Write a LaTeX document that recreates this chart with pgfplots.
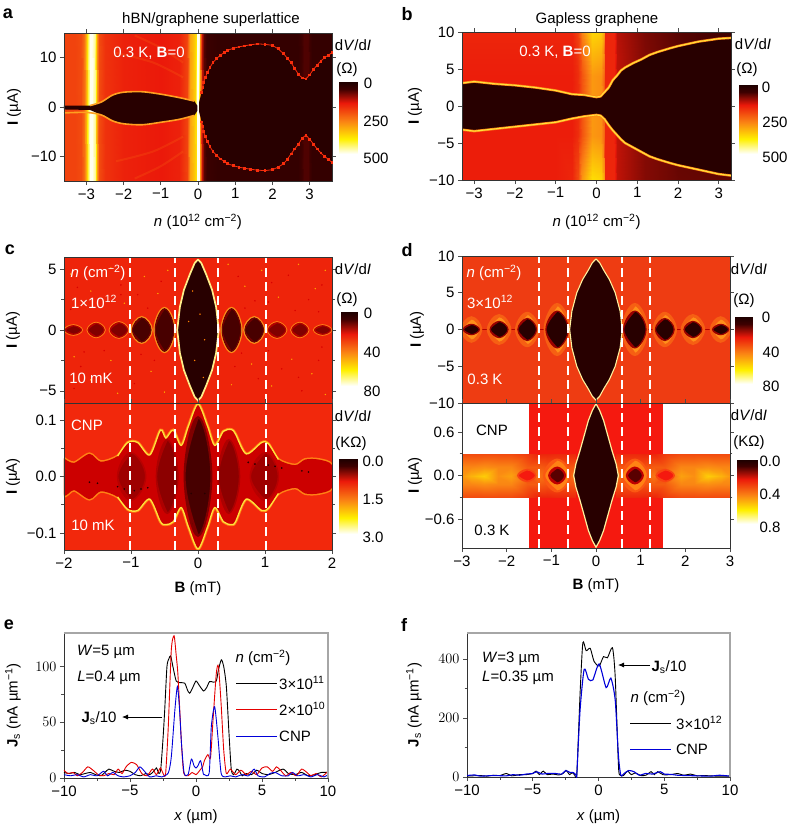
\documentclass[border=0pt]{standalone}
\usepackage{pgfplots}
\usepackage{fontspec}
\setmainfont{Liberation Sans}
\pgfplotsset{compat=1.18}
\usepackage{pgfplotstable}
\usetikzlibrary{arrows.meta}
\pgfplotsset{colormap={hot2}{rgb255(0cm)=(30,0,0); rgb255(1cm)=(62,0,0); rgb255(3cm)=(235,25,10); rgb255(5.5cm)=(250,130,20); rgb255(8cm)=(255,240,0); rgb255(10cm)=(255,255,240)}}
\definecolor{dk}{RGB}{40,0,0}
\definecolor{bgc}{RGB}{238,36,10}
\definecolor{bgcb}{RGB}{242,40,12}
\definecolor{bgd}{RGB}{238,60,18}
\definecolor{rd}{RGB}{245,25,15}
\definecolor{ora}{RGB}{255,130,20}
\definecolor{yel}{RGB}{255,226,60}
\newcommand\tf{\fontsize{15}{17}\selectfont}
\pgfplotsset{
 base/.style={scale only axis, axis on top, anchor=south west, tick align=outside,
  tick style={color=black!70,line width=.6pt}, major tick length=4pt, minor tick length=2.5pt,
  tick label style={font=\tf}, axis line style={black!80,line width=.8pt},
  point meta min=0, point meta max=100, colormap name=hot2, enlargelimits=false},
 yl/.style={every axis y label/.style={at={(axis description cs:0,0.5)},rotate=90,anchor=center,yshift=#1,font=\tf}},
 xl/.style={every axis x label/.style={at={(axis description cs:0.5,0)},anchor=center,yshift=#1,font=\tf}},
 sf/.style={surf,shader=interp,draw=none,point meta=explicit,mesh/ordering=y varies},
 dash/.style={white,line width=2pt,dash pattern=on 9pt off 5pt,forget plot},
 jump/.style={unbounded coords=jump,smooth,tension=0.75},
}
\colorlet{cblk}{black}
\colorlet{cred}{red!90!black}
\colorlet{cblu}{blue!85!black}
% ---- colour bar
\pgfplotstableread[row sep=\\]{x y c\\0 0 0\\1 0 0\\0 10 10\\1 10 10\\0 30 30\\1 30 30\\0 55 55\\1 55 55\\0 80 80\\1 80 80\\0 100 100\\1 100 100\\}\cbtab
\newcommand\cbar[4]{\begin{axis}[base,at={(#1pt,-#2pt)},anchor=north west,width=#3pt,height=#4pt,hide axis,xmin=0,xmax=1,ymin=0,ymax=100,y dir=reverse]
\addplot[surf,shader=interp,draw=none,point meta=explicit,mesh/ordering=x varies,mesh/cols=2] table[meta=c]{\cbtab};
\end{axis}}
\newcommand\T[3]{\node[font=\tf,anchor=center] at (#1pt,-#2pt){#3};}
\newcommand\Tw[3]{\node[font=\tf,text=white,anchor=center] at (#1pt,-#2pt){#3};}
\newcommand\Key[6]{\draw[#1,line width=1pt] (#2pt,-#4pt)--(#3pt,-#4pt);\node[font=\tf,anchor=west,inner sep=0pt] at (#5pt,-#4pt){#6};}
\newcommand\dVdI{d\textit{V}/d\textit{I}}
% ---- panel a: n, I, colour
\pgfplotstableread[row sep=\\]{x y c\\
-3.6 -15 40\\-3.6 15 40\\-3.3 -15 40\\-3.3 15 40\\-3.15 -15 42\\-3.15 15 42\\-3.05 -15 50\\-3.05 15 50\\-3 -15 64\\-3 15 64\\-2.95 -15 86\\-2.95 15 86\\-2.9 -15 100\\-2.9 15 100\\-2.85 -15 100\\-2.85 15 100\\-2.78 -15 92\\-2.78 15 92\\-2.72 -15 60\\-2.72 15 60\\-2.65 -15 42\\-2.65 15 42\\-2.5 -15 36\\-2.5 15 36\\-2 -15 32\\-2 15 32\\-1.5 -15 31\\-1.5 15 31\\-1 -15 30\\-1 15 30\\-0.5 -15 32\\-0.5 15 32\\-0.3 -15 40\\-0.3 15 40\\-0.22 -15 62\\-0.22 15 62\\-0.12 -15 70\\-0.12 15 70\\-0.06 -15 76\\-0.06 15 76\\-0.03 -15 100\\-0.03 15 100\\0.02 -15 100\\0.02 15 100\\0.05 -15 60\\0.05 15 60\\0.1 -15 25\\0.1 15 25\\0.15 -15 13\\0.15 15 13\\0.25 -15 9\\0.25 15 9\\0.5 -15 7\\0.5 15 7\\2.7 -15 7\\2.7 15 7\\2.85 -15 12\\2.85 15 12\\2.95 -15 12\\2.95 15 12\\3.05 -15 7\\3.05 15 7\\3.6 -15 7\\3.6 15 7\\}\atab
% ---- panel b: n, I, colour
\pgfplotstableread[row sep=\\]{x y c\\
-3.3 -10 31\\-3.3 -4 31\\-3.3 4 31\\-3.3 10 33\\
-1 -10 31\\-1 -4 31\\-1 4 31\\-1 10 33\\
-0.6 -10 33\\-0.6 -4 31\\-0.6 4 31\\-0.6 10 33\\
-0.45 -10 42\\-0.45 -4 35\\-0.45 4 35\\-0.45 10 40\\
-0.35 -10 60\\-0.35 -4 44\\-0.35 4 44\\-0.35 10 55\\
-0.1 -10 76\\-0.1 -4 60\\-0.1 4 60\\-0.1 10 74\\
0.1 -10 74\\0.1 -4 58\\0.1 4 58\\0.1 10 72\\
0.18 -10 62\\0.18 -4 48\\0.18 4 48\\0.18 10 62\\
0.22 -10 33\\0.22 -4 33\\0.22 4 33\\0.22 10 33\\
0.42 -10 33\\0.42 -4 33\\0.42 4 33\\0.42 10 33\\
0.5 -10 25\\0.5 -4 25\\0.5 4 25\\0.5 10 24\\
0.8 -10 22\\0.8 -4 22\\0.8 4 22\\0.8 10 21\\
1.2 -10 18\\1.2 -4 18\\1.2 4 18\\1.2 10 17\\
2 -10 15\\2 -4 14\\2 4 14\\2 10 13\\
3.3 -10 14\\3.3 -4 10\\3.3 4 10\\3.3 10 10\\}\btab
% ---- panel c top lobes
\pgfplotstableread[row sep=\\]{x y\\
-0.5 -1.75\\-0.64 0\\-0.5 1.75\\-0.36 0\\-0.5 -1.75\\-0.64 0\\-0.5 1.75\\nan nan\\
0.5 -1.75\\0.36 0\\0.5 1.75\\0.64 0\\0.5 -1.75\\0.36 0\\0.5 1.75\\nan nan\\
-0.84 -1\\-0.98 0\\-0.84 1\\-0.70 0\\-0.84 -1\\-0.98 0\\-0.84 1\\nan nan\\
0.84 -1\\0.70 0\\0.84 1\\0.98 0\\0.84 -1\\0.70 0\\0.84 1\\}\cmed
\pgfplotstableread[row sep=\\]{x y\\
-1.18 -0.6\\-1.31 0\\-1.18 0.6\\-1.05 0\\-1.18 -0.6\\-1.31 0\\-1.18 0.6\\nan nan\\
1.18 -0.6\\1.05 0\\1.18 0.6\\1.31 0\\1.18 -0.6\\1.05 0\\1.18 0.6\\nan nan\\
-1.52 -0.55\\-1.64 0\\-1.52 0.55\\-1.40 0\\-1.52 -0.55\\-1.64 0\\-1.52 0.55\\nan nan\\
1.52 -0.55\\1.40 0\\1.52 0.55\\1.64 0\\1.52 -0.55\\1.40 0\\1.52 0.55\\nan nan\\
-1.86 -0.35\\-1.98 0\\-1.86 0.35\\-1.74 0\\-1.86 -0.35\\-1.98 0\\-1.86 0.35\\nan nan\\
1.86 -0.35\\1.74 0\\1.86 0.35\\1.98 0\\1.86 -0.35\\1.74 0\\1.86 0.35\\}\cweak
% ---- panel c bottom envelope
\pgfplotstableread[row sep=\\]{x y\\
-2 .032\\-1.85 .024\\-1.62 .040\\-1.45 .026\\-1.2 .036\\-1.05 .060\\-0.9 .060\\-0.72 .038\\-0.56 .082\\-0.48 .068\\-0.37 .082\\-0.25 .055\\-0.14 .09\\0 .128\\.14 .09\\.25 .055\\.38 .08\\.5 .083\\.56 .075\\.72 .04\\.95 .06\\1.05 .058\\1.2 .03\\1.45 .02\\1.6 .03\\1.8 .03\\2 .02\\
2 -.02\\1.8 -.03\\1.6 -.03\\1.45 -.02\\1.2 -.03\\1.05 -.056\\.95 -.06\\.72 -.04\\.56 -.08\\.5 -.085\\.38 -.08\\.25 -.055\\.14 -.09\\0 -.128\\-.14 -.09\\-.25 -.055\\-.37 -.08\\-.48 -.085\\-.56 -.08\\-.72 -.04\\-.9 -.06\\-1.05 -.058\\-1.2 -.036\\-1.45 -.026\\-1.62 -.040\\-1.85 -.024\\-2 -.032\\-2 .032\\}\cenv
% ---- panel d top lobes
\pgfplotstableread[row sep=\\]{x y\\
-0.87 -2.5\\-1.12 0\\-0.87 2.5\\-0.62 0\\-0.87 -2.5\\-1.12 0\\-0.87 2.5\\nan nan\\
0.87 -2.5\\0.62 0\\0.87 2.5\\1.12 0\\0.87 -2.5\\0.62 0\\0.87 2.5\\nan nan\\
-1.54 -1.5\\-1.75 0\\-1.54 1.5\\-1.33 0\\-1.54 -1.5\\-1.75 0\\-1.54 1.5\\nan nan\\
1.54 -1.5\\1.33 0\\1.54 1.5\\1.75 0\\1.54 -1.5\\1.33 0\\1.54 1.5\\nan nan\\
-2.17 -1.1\\-2.37 0\\-2.17 1.1\\-1.97 0\\-2.17 -1.1\\-2.37 0\\-2.17 1.1\\nan nan\\
2.17 -1.1\\1.97 0\\2.17 1.1\\2.37 0\\2.17 -1.1\\1.97 0\\2.17 1.1\\nan nan\\
-2.79 -0.7\\-2.97 0\\-2.79 0.7\\-2.61 0\\-2.79 -0.7\\-2.97 0\\-2.79 0.7\\nan nan\\
2.79 -0.7\\2.61 0\\2.79 0.7\\2.97 0\\2.79 -0.7\\2.61 0\\2.79 0.7\\}\dlob
\pgfplotstableread[row sep=\\]{x y\\
-0.87 -3.4\\-1.14 0\\-0.87 3.4\\-0.6 0\\-0.87 -3.4\\-1.14 0\\-0.87 3.4\\nan nan\\
0.87 -3.4\\0.6 0\\0.87 3.4\\1.14 0\\0.87 -3.4\\0.6 0\\0.87 3.4\\nan nan\\
-1.54 -2.2\\-1.78 0\\-1.54 2.2\\-1.3 0\\-1.54 -2.2\\-1.78 0\\-1.54 2.2\\nan nan\\
1.54 -2.2\\1.3 0\\1.54 2.2\\1.78 0\\1.54 -2.2\\1.3 0\\1.54 2.2\\nan nan\\
-2.17 -1.9\\-2.41 0\\-2.17 1.9\\-1.93 0\\-2.17 -1.9\\-2.41 0\\-2.17 1.9\\nan nan\\
2.17 -1.9\\1.93 0\\2.17 1.9\\2.41 0\\2.17 -1.9\\1.93 0\\2.17 1.9\\nan nan\\
-2.79 -1.6\\-3.0 0\\-2.79 1.6\\-2.58 0\\-2.79 -1.6\\-3.0 0\\-2.79 1.6\\nan nan\\
2.79 -1.6\\2.58 0\\2.79 1.6\\3.0 0\\2.79 -1.6\\2.58 0\\2.79 1.6\\}\dhal
% ---- panel d bottom band (|B|, I>=0, colour)
\pgfplotstableread[row sep=\\]{x y c\\
0.45 0 52\\0.45 .12 45\\0.45 .3 34\\
0.7 0 48\\0.7 .12 44\\0.7 .3 34\\
0.87 0 40\\0.87 .12 44\\0.87 .3 34\\
1.1 0 46\\1.1 .12 44\\1.1 .3 33\\
1.3 0 52\\1.3 .12 46\\1.3 .3 33\\
1.55 0 42\\1.55 .12 46\\1.55 .3 38\\
1.9 0 62\\1.9 .12 56\\1.9 .3 42\\
2.2 0 58\\2.2 .12 56\\2.2 .3 42\\
2.5 0 72\\2.5 .12 58\\2.5 .3 42\\
2.8 0 66\\2.8 .12 56\\2.8 .3 42\\
3 0 60\\3 .12 56\\3 .3 42\\}\dband
\pgfplotstableread[row sep=\\]{x y\\
-0.87 -.22\\-1.16 0\\-0.87 .22\\-0.58 0\\-0.87 -.22\\-1.16 0\\-0.87 .22\\nan nan\\
0.87 -.22\\0.58 0\\0.87 .22\\1.16 0\\0.87 -.22\\0.58 0\\0.87 .22\\}\dbh
\pgfplotstableread[row sep=\\]{x y\\
-0.87 -.11\\-1.05 0\\-0.87 .11\\-0.69 0\\-0.87 -.11\\-1.05 0\\-0.87 .11\\nan nan\\
0.87 -.11\\0.69 0\\0.87 .11\\1.05 0\\0.87 -.11\\0.69 0\\0.87 .11\\}\dbl
\pgfplotstableread[row sep=\\]{x y\\
-1.55 -.08\\-1.75 0\\-1.55 .08\\-1.35 0\\-1.55 -.08\\-1.75 0\\-1.55 .08\\nan nan\\
1.55 -.08\\1.35 0\\1.55 .08\\1.75 0\\1.55 -.08\\1.35 0\\1.55 .08\\}\dbm
\begin{document}
\begin{tikzpicture}
\useasboundingbox (0pt,0pt) rectangle (788pt,-825pt);
% ============ a
\begin{axis}[base,at={(64pt,-181pt)},width=268pt,height=148pt,xmin=-3.6,xmax=3.6,ymin=-15,ymax=15,
 xtick={-3,-2,-1,0,1,2,3},xticklabels={−3,−2,−1,0,1,2,3},ytick={-10,0,10},yticklabels={−10,0,10},
 xlabel={\textit{n} (10\textsuperscript{12} cm\textsuperscript{−2})},ylabel={\textbf{I} (µA)},yl=50pt,xl=-41pt]
\addplot[sf,mesh/rows=2] table[meta=c]{\atab};
\addplot[ora,opacity=.18,line width=2pt,smooth] coordinates {(-0.4,6)(-1.2,9)(-2.2,11)};
\addplot[ora,opacity=.18,line width=2pt,smooth] coordinates {(-0.4,9)(-1,12)(-1.7,14.5)};
\addplot[ora,opacity=.18,line width=2pt,smooth] coordinates {(-0.4,-6)(-1.2,-9)(-2.2,-11)};
\addplot[ora,opacity=.18,line width=2pt,smooth] coordinates {(-0.4,-9)(-1,-12)(-1.7,-14.5)};
\addplot[fill=dk,draw=none] coordinates {(-3.6,0.3)(-2.9,0.3)(-2.6,1)(-2.3,2.4)(-2,3)(-1.5,3.1)(-1,2.6)(-0.5,1.9)(-0.1,1.2)(-0.02,0.3)(-0.02,-0.8)(-0.1,-1.7)(-0.5,-2.5)(-1,-3.1)(-1.5,-3.6)(-2,-3.4)(-2.3,-2.8)(-2.6,-1.6)(-2.9,-0.6)(-3.6,-0.5)};
\addplot[ora!70!yel,line width=1.6pt,smooth] coordinates {(-2.9,0.3)(-2.6,1)(-2.3,2.4)(-2,3)(-1.5,3.1)(-1,2.6)(-0.5,1.9)(-0.1,1.2)};
\addplot[ora!70!yel,line width=1.6pt,smooth] coordinates {(-3.6,-1.2)(-3,-1.1)(-2.6,-1.6)(-2.3,-2.8)(-2,-3.4)(-1.5,-3.6)(-1,-3.1)(-0.5,-2.5)(-0.1,-1.7)};
\addplot[fill=dk,draw=none] coordinates {(0.03,-1)(0.03,1)(0.1,3)(0.15,5)(0.25,7)(0.4,9)(0.6,10.5)(0.8,11.5)(1.1,12.2)(1.6,12.8)(2,12.5)(2.3,10.8)(2.5,9)(2.7,6.6)(2.9,5.7)(3,6.5)(3.2,8.5)(3.4,10)(3.6,11)(3.6,-11.2)(3.4,-10)(3.2,-8.5)(3,-6.5)(2.9,-5.7)(2.7,-7.5)(2.5,-9.5)(2.3,-11.5)(2,-12.7)(1.6,-12.8)(1.1,-12.2)(0.8,-11.5)(0.6,-10.5)(0.4,-9)(0.25,-7)(0.15,-5)(0.1,-3)};
\addplot[rd!80!orange,line width=.8pt,mark=square*,mark size=.9pt] coordinates {(0.1,3)(0.13,4)(0.15,5)(0.2,6)(0.25,7)(0.32,8)(0.4,9)(0.5,9.8)(0.6,10.5)(0.7,11)(0.8,11.5)(0.95,11.9)(1.1,12.2)(1.25,12.4)(1.4,12.6)(1.6,12.8)(1.8,12.7)(2,12.5)(2.15,11.8)(2.3,10.8)(2.4,9.9)(2.5,9)(2.6,7.8)(2.7,6.6)(2.8,5.9)(2.9,5.7)(3,6.5)(3.1,7.6)(3.2,8.5)(3.3,9.3)(3.4,10)(3.5,10.5)(3.6,11)};
\addplot[rd!80!orange,line width=.8pt,mark=square*,mark size=.9pt] coordinates {(0.1,-3)(0.13,-4)(0.15,-5)(0.2,-6)(0.25,-7)(0.32,-8)(0.4,-9)(0.5,-9.8)(0.6,-10.5)(0.7,-11)(0.8,-11.5)(0.95,-11.9)(1.1,-12.2)(1.25,-12.4)(1.4,-12.6)(1.6,-12.8)(1.8,-12.9)(2,-12.7)(2.15,-12.2)(2.3,-11.5)(2.4,-10.6)(2.5,-9.5)(2.6,-8.5)(2.7,-7.5)(2.8,-6.3)(2.9,-5.7)(3,-6.5)(3.1,-7.5)(3.2,-8.5)(3.3,-9.3)(3.4,-10)(3.5,-10.6)(3.6,-11.2)};
\end{axis}
\T{211}{20}{hBN/graphene superlattice}
\Tw{149}{53}{0.3 K, \textbf{B}=0}
\cbar{339}{82}{18}{71}
\T{353}{45}{\dVdI}\T{347}{70}{(Ω)}\T{368}{83}{0}\T{376}{121}{250}\T{376}{158}{500}
% ============ b
\begin{axis}[base,at={(462pt,-180pt)},width=269pt,height=148pt,xmin=-3.3,xmax=3.3,ymin=-10,ymax=10,
 xtick={-3,-2,-1,0,1,2,3},xticklabels={−3,−2,−1,0,1,2,3},ytick={-10,-5,0,5,10},yticklabels={−10,−5,0,5,10},
 xlabel={\textit{n} (10\textsuperscript{12} cm\textsuperscript{−2})},ylabel={\textbf{I} (µA)},yl=47pt,xl=-42pt]
\addplot[sf,mesh/rows=4] table[meta=c]{\btab};
\addplot[fill=dk,draw=none] coordinates {(-3.3,3.1)(-3,3.3)(-2.5,3)(-2,2.8)(-1.5,2.5)(-1,2.1)(-0.6,1.6)(-0.3,1.5)(0,1.2)(0.1,1.3)(0.2,1.9)(0.3,2.5)(0.4,3.5)(0.5,4.1)(0.6,4.8)(0.7,5.2)(0.9,5.8)(1.1,6.3)(1.3,6.9)(1.5,7.3)(1.8,7.8)(2,8.1)(2.5,8.7)(3,9.1)(3.3,9.2)(3.3,-9.4)(3,-9.2)(2.5,-8.6)(2,-8)(1.8,-7.7)(1.5,-7.2)(1.3,-6.8)(1.1,-6.2)(0.9,-5.6)(0.7,-5)(0.6,-4.5)(0.5,-3.9)(0.4,-3.3)(0.3,-2.6)(0.2,-1.8)(0.1,-1.3)(0,-1.2)(-0.3,-1.4)(-0.6,-1.7)(-1,-2.2)(-1.5,-2.5)(-2,-2.8)(-2.5,-3.1)(-3,-3.4)(-3.3,-3.2)};
\addplot[ora,line width=2.4pt] coordinates {(-3.3,3.1)(-3,3.3)(-2.5,3)(-2,2.8)(-1.5,2.5)(-1,2.1)(-0.6,1.6)(-0.3,1.5)(0,1.2)(0.1,1.3)(0.2,1.9)(0.3,2.5)(0.4,3.5)(0.5,4.1)(0.6,4.8)(0.7,5.2)(0.9,5.8)(1.1,6.3)(1.3,6.9)(1.5,7.3)(1.8,7.8)(2,8.1)(2.5,8.7)(3,9.1)(3.3,9.2)};
\addplot[ora,line width=2.4pt] coordinates {(3.3,-9.4)(3,-9.2)(2.5,-8.6)(2,-8)(1.8,-7.7)(1.5,-7.2)(1.3,-6.8)(1.1,-6.2)(0.9,-5.6)(0.7,-5)(0.6,-4.5)(0.5,-3.9)(0.4,-3.3)(0.3,-2.6)(0.2,-1.8)(0.1,-1.3)(0,-1.2)(-0.3,-1.4)(-0.6,-1.7)(-1,-2.2)(-1.5,-2.5)(-2,-2.8)(-2.5,-3.1)(-3,-3.4)(-3.3,-3.2)};
\addplot[yel,line width=1.1pt] coordinates {(-3.3,3.1)(-3,3.3)(-2.5,3)(-2,2.8)(-1.5,2.5)(-1,2.1)(-0.6,1.6)(-0.3,1.5)(0,1.2)(0.1,1.3)(0.2,1.9)(0.3,2.5)(0.4,3.5)(0.5,4.1)(0.6,4.8)(0.7,5.2)(0.9,5.8)(1.1,6.3)(1.3,6.9)(1.5,7.3)(1.8,7.8)(2,8.1)(2.5,8.7)(3,9.1)(3.3,9.2)};
\addplot[yel,line width=1.1pt] coordinates {(3.3,-9.4)(3,-9.2)(2.5,-8.6)(2,-8)(1.8,-7.7)(1.5,-7.2)(1.3,-6.8)(1.1,-6.2)(0.9,-5.6)(0.7,-5)(0.6,-4.5)(0.5,-3.9)(0.4,-3.3)(0.3,-2.6)(0.2,-1.8)(0.1,-1.3)(0,-1.2)(-0.3,-1.4)(-0.6,-1.7)(-1,-2.2)(-1.5,-2.5)(-2,-2.8)(-2.5,-3.1)(-3,-3.4)(-3.3,-3.2)};
\end{axis}
\T{597}{20}{Gapless graphene}
\Tw{555}{52}{0.3 K, \textbf{B}=0}
\cbar{739}{85}{18}{68}
\T{753}{44}{\dVdI}\T{747}{70}{(Ω)}\T{766}{87}{0}\T{775}{122}{250}\T{775}{157}{500}
% ============ c top
\begin{axis}[base,at={(64pt,-403pt)},width=268pt,height=146pt,xmin=-2,xmax=2,ymin=-6,ymax=6,
 axis background/.style={fill=bgc},xtick=\empty,ytick={-5,0,5},yticklabels={−5,0,5},minor y tick num=1,ylabel={\textbf{I} (µA)},yl=51pt]
\addplot[only marks,mark=*,mark size=.45pt,color=orange!70!yellow] coordinates {(-1.9,4.6)(-1.6,3.2)(-1.3,5.1)(-1.1,2.2)(-0.8,4.4)(-0.6,3)(-0.7,-3.4)(-1.3,-2.5)(-1.6,-4.1)(-1.85,-2.2)(-0.45,4.9)(0.45,5.4)(0.7,3.6)(0.95,4.9)(1.2,2.7)(1.5,5.4)(1.75,3.4)(1.9,4.9)(0.5,-4.5)(0.8,-2.8)(1.1,-4.6)(1.4,-2.4)(1.7,-3.6)(1.9,-5.3)(-1.2,-5.2)(-0.5,-5.1)};
\addplot[only marks,mark=*,mark size=.5pt,color=red!85!black] coordinates {(-1.8,3.5)(-1.45,4.4)(-1.15,3.7)(-0.9,2.9)(-0.55,4)(-1.7,-1.8)(-1.35,-3.6)(-0.95,-4.4)(-0.65,-2.5)(-1.85,-4.8)(0.6,4.4)(0.85,2.4)(1.1,3.9)(1.35,4.5)(1.65,2.5)(1.85,3.7)(0.55,-3)(0.9,-4)(1.25,-3.2)(1.55,-5)(1.8,-2.5)(-1.9,1.7)(-1.5,1.9)(-1.15,2.9)(-0.75,1.8)(0.7,1.8)(1.05,2.3)(1.45,1.6)(1.8,1.5)(-1.75,-3)(-1.4,-1.7)(-0.85,-2)(0.65,-1.9)(1.05,-1.7)(1.5,-3.9)(1.85,-1.4)};
\addplot[ora,line width=3pt,jump] table{\cweak};
\addplot[fill=red!50!black,draw=red!70!black,line width=1.2pt,jump] table{\cweak};
\addplot[ora,line width=3.6pt,jump] table{\cmed};
\addplot[yel,line width=1.6pt,jump] table{\cmed};
\addplot[fill=dk!85!red,draw=red!45!black,line width=1.2pt,jump] table{\cmed};
\addplot[fill=dk,draw=yel!60!white,line width=1.7pt] coordinates {(0,5.8)(.05,5.5)(.12,4.6)(.21,3.3)(.27,1.9)(.31,0)(.27,-1.9)(.21,-3.3)(.12,-4.6)(.05,-5.5)(0,-5.8)(-.05,-5.5)(-.12,-4.6)(-.21,-3.3)(-.27,-1.9)(-.31,0)(-.27,1.9)(-.21,3.3)(-.12,4.6)(-.05,5.5)(0,5.8)};
\addplot[only marks,mark=*,mark size=.5pt,color=orange] coordinates {(-0.08,3.2)(0.03,1.3)(0.1,-0.8)(-0.05,-2.5)(0.08,-3.9)(-0.14,0.7)};
\addplot[dash] coordinates {(-1.01,-6)(-1.01,6)};\addplot[dash] coordinates {(-0.34,-6)(-0.34,6)};\addplot[dash] coordinates {(0.305,-6)(0.305,6)};\addplot[dash] coordinates {(1.01,-6)(1.01,6)};
\end{axis}
\Tw{98}{273}{\textit{n} (cm\textsuperscript{−2})}\Tw{94}{302}{1×10\textsuperscript{12}}\Tw{91}{378}{10 mK}
\cbar{341}{312}{16}{73}
\T{353}{269}{\dVdI}\T{347}{300}{(Ω)}\T{368}{313}{0}\T{372}{352}{40}\T{372}{391}{80}
% ============ c bottom
\begin{axis}[base,at={(64pt,-550pt)},width=268pt,height=147pt,xmin=-2,xmax=2,ymin=-0.13,ymax=0.13,
 axis background/.style={fill=bgcb},xtick={-2,-1,0,1,2},xticklabels={−2,−1,0,1,2},ytick={-0.1,0,0.1},yticklabels={−0.1,0.0,0.1},minor y tick num=1,
 xlabel={\textbf{B} (mT)},ylabel={\textbf{I} (µA)},yl=51pt,xl=-39pt]
\addplot[ora,line width=3pt,smooth,tension=.5] table{\cenv};
\addplot[fill=red!80!black,draw=none,smooth,tension=.5] table{\cenv};
\addplot[yel,line width=1.3pt,smooth] coordinates {(-1.2,.036)(-1.05,.060)(-0.9,.060)(-0.72,.038)(-0.56,.082)(-0.48,.068)(-0.37,.082)(-0.25,.055)(-0.14,.09)(0,.128)(.14,.09)(.25,.055)(.38,.08)(.5,.083)(.56,.075)(.72,.04)(.95,.06)(1.05,.058)(1.2,.03)};
\addplot[yel,line width=1.3pt,smooth] coordinates {(-1.2,-.036)(-1.05,-.058)(-0.9,-.06)(-0.72,-.04)(-0.56,-.08)(-0.48,-.085)(-0.37,-.08)(-0.25,-.055)(-0.14,-.09)(0,-.128)(.14,-.09)(.25,-.055)(.38,-.08)(.5,-.085)(.56,-.08)(.72,-.04)(.95,-.06)(1.05,-.056)(1.2,-.03)};
\addplot[fill=red!55!black,draw=red!68!black,line width=1.5pt,jump] coordinates {(-0.46,-.065)(-0.62,0)(-0.46,.065)(-0.3,0)(-0.46,-.065)(-0.62,0)(-0.46,.065)};
\addplot[fill=red!55!black,draw=red!68!black,line width=1.5pt,jump] coordinates {(0.46,-.065)(0.3,0)(0.46,.065)(0.62,0)(0.46,-.065)(0.3,0)(0.46,.065)};
\addplot[fill=red!62!black,draw=red!72!black,line width=1.5pt,jump] coordinates {(-1,-.042)(-1.2,0)(-1,.042)(-0.78,0)(-1,-.042)(-1.2,0)(-1,.042)};
\addplot[fill=red!62!black,draw=red!72!black,line width=1.5pt,jump] coordinates {(1,-.042)(0.78,0)(1,.042)(1.2,0)(1,-.042)(0.78,0)(1,.042)};
\addplot[fill=red!28!black,draw=red!50!black,line width=2pt,jump] coordinates {(0,-.105)(-0.2,0)(0,.105)(0.2,0)(0,-.105)(-0.2,0)(0,.105)};
\addplot[only marks,mark=*,mark size=.6pt,color=dk] coordinates {(-1.62,-.01)(-1.5,-.012)(-1.2,-.018)(-1.1,-.022)(-.95,-.025)(-.85,-.022)(-.75,-.02)(-.1,-.03)(.1,-.03)(.75,.025)(.85,.022)(1.05,.02)(1.15,.018)(1.25,.015)(1.55,.01)(1.65,.008)};
\addplot[dash] coordinates {(-1.01,-.13)(-1.01,.13)};\addplot[dash] coordinates {(-0.34,-.13)(-0.34,.13)};\addplot[dash] coordinates {(0.305,-.13)(0.305,.13)};\addplot[dash] coordinates {(1.01,-.13)(1.01,.13)};
\end{axis}
\Tw{87}{425}{CNP}\Tw{93}{525}{10 mK}
\cbar{339}{459}{18}{74}
\T{353}{416}{\dVdI}\T{351}{444}{(KΩ)}\T{373}{461}{0.0}\T{373}{499}{1.5}\T{373}{537}{3.0}
% ============ d top
\begin{axis}[base,at={(462pt,-403pt)},width=268pt,height=147pt,xmin=-3,xmax=3,ymin=-10,ymax=10,
 axis background/.style={fill=bgd},xtick=\empty,ytick={-10,-5,0,5,10},yticklabels={−10,−5,0,5,10},ylabel={\textbf{I} (µA)},yl=45pt]
\addplot[red!70!black,line width=.8pt] coordinates {(-3,0)(3,0)};
\addplot[draw=ora!50!bgd,fill=ora!85!yel,line width=3pt,jump] table{\dhal};
\addplot[fill=dk,draw=red!60!black,line width=1.2pt,jump] table{\dlob};
\addplot[fill=dk,draw=yel!50!white,line width=1.1pt] coordinates {(0,9.6)(.08,9.1)(.18,8)(.3,6.8)(.43,5)(.54,2.5)(.59,0)(.54,-2.5)(.43,-5)(.3,-6.8)(.18,-8)(.08,-9.1)(0,-9.6)(-.08,-9.1)(-.18,-8)(-.3,-6.8)(-.43,-5)(-.54,-2.5)(-.59,0)(-.54,2.5)(-.43,5)(-.3,6.8)(-.18,8)(-.08,9.1)(0,9.6)};
\addplot[dash] coordinates {(-1.27,-10)(-1.27,10)};\addplot[dash] coordinates {(-0.62,-10)(-0.62,10)};\addplot[dash] coordinates {(0.59,-10)(0.59,10)};\addplot[dash] coordinates {(1.21,-10)(1.21,10)};
\end{axis}
\Tw{494}{273}{\textit{n} (cm\textsuperscript{−2})}\Tw{490}{302}{3×10\textsuperscript{12}}\Tw{485}{379}{0.3 K}
\cbar{735}{317}{17}{66}
\T{749}{269}{\dVdI}\T{744}{301}{(Ω)}\T{766}{317}{0}\T{771}{352}{40}\T{771}{386}{80}
% ============ d bottom
\begin{axis}[base,at={(462pt,-548pt)},width=268pt,height=145pt,xmin=-3,xmax=3,ymin=-1,ymax=1,
 xtick={-3,-2,-1,0,1,2,3},xticklabels={−3,−2,−1,0,1,2,3},ytick={-0.6,0,0.6},yticklabels={−0.6,0.0,0.6},minor y tick num=1,
 xlabel={\textbf{B} (mT)},ylabel={\textbf{I} (µA)},yl=47pt,xl=-38pt]
\addplot[fill=rd,draw=none] coordinates {(-1.51,-1)(1.51,-1)(1.51,1)(-1.51,1)};
\addplot[sf,mesh/rows=3] table[meta=c]{\dband};
\addplot[sf,mesh/rows=3] table[meta=c,y expr=-\thisrow{y}]{\dband};
\addplot[sf,mesh/rows=3] table[meta=c,x expr=-\thisrow{x}]{\dband};
\addplot[sf,mesh/rows=3] table[meta=c,x expr=-\thisrow{x},y expr=-\thisrow{y}]{\dband};
\addplot[fill=ora,draw=ora!60!rd,line width=2pt,jump] table{\dbh};
\addplot[fill=red!35!black,draw=red!75!black,line width=2pt,jump] table{\dbl};
\addplot[fill=rd,draw=rd!60!ora,line width=1.5pt,jump] table{\dbm};
\addplot[fill=dk,draw=yel!50!white,line width=1.2pt] coordinates {(0,.99)(.08,.9)(.17,.76)(.26,.56)(.36,.34)(.45,.16)(.5,0)(.45,-.16)(.36,-.34)(.26,-.56)(.17,-.76)(.08,-.9)(0,-.99)(-.08,-.9)(-.17,-.76)(-.26,-.56)(-.36,-.34)(-.45,-.16)(-.5,0)(-.45,.16)(-.36,.34)(-.26,.56)(-.17,.76)(-.08,.9)(0,.99)};
\addplot[dash] coordinates {(-1.27,-1)(-1.27,1)};\addplot[dash] coordinates {(-0.62,-1)(-0.62,1)};\addplot[dash] coordinates {(0.59,-1)(0.59,1)};\addplot[dash] coordinates {(1.21,-1)(1.21,1)};
\end{axis}
\T{492}{430}{CNP}\T{492}{530}{0.3 K}
\cbar{737}{460}{20}{63}
\T{749}{415}{\dVdI}\T{749}{443}{(KΩ)}\T{770}{461}{0.0}\T{770}{494}{0.4}\T{770}{527}{0.8}
% ============ e
\begin{axis}[base,at={(64pt,-778pt)},width=264pt,height=145pt,xmin=-10,xmax=10,ymin=0,ymax=130,axis on top=false,
 axis lines*=left,xtick={-10,-5,0,5,10},xticklabels={−10,−5,0,5,10},ytick={0,50,100},minor x tick num=1,minor y tick num=1,
 xlabel={\textit{x} (µm)},ylabel={\textbf{J}\textsubscript{s} (nA µm\textsuperscript{−1})},yl=51pt,xl=-39pt,
 after end axis/.code={\draw[gray!70,line width=1.2pt] (rel axis cs:0,1)--(rel axis cs:1,1)--(rel axis cs:1,0);}]
\addplot[cblk,line width=.9pt,smooth,tension=.4] coordinates {(-10,5)(-9.6,4)(-9.2,5)(-8.8,3)(-8.4,4)(-8,5)(-7.6,3)(-7.2,2)(-6.9,5)(-6.6,8)(-6.2,6)(-5.8,5)(-5.4,7)(-5,6)(-4.6,3)(-4.2,2)(-3.8,4)(-3.5,3)(-3.2,6)(-3,9)(-2.8,4)(-2.67,8)(-2.5,35)(-2.37,61)(-2.2,100)(-2.05,107)(-1.92,109.5)(-1.75,100)(-1.5,87)(-1.2,85.5)(-.85,85)(-.65,79)(-.48,76)(-.25,81)(0,87)(.25,83)(.58,78)(.8,81)(1.03,86.5)(1.3,86)(1.54,87)(1.7,97)(1.92,106)(2.1,100)(2.3,82)(2.5,40)(2.67,8)(2.85,3)(3.1,8)(3.3,6)(3.5,2)(3.8,4)(4.2,3)(4.6,7)(5,4)(5.5,3)(6,5)(6.6,8)(7,4)(7.5,3)(8,5)(8.5,2)(9,3)(9.5,5)(10,5)};
\addplot[cred,line width=.9pt,smooth,tension=.4] coordinates {(-10,7)(-9.7,4)(-9.3,5)(-9,2)(-8.6,5)(-8.2,10)(-7.8,7)(-7.4,3)(-7,2)(-6.6,4)(-6.2,3)(-5.9,8)(-5.6,4)(-5.3,10)(-4.9,14)(-4.5,12)(-4.1,4)(-3.7,2)(-3.3,8)(-3,3)(-2.7,9)(-2.45,3)(-2.3,4)(-2.1,46)(-1.87,115)(-1.66,127.5)(-1.5,110)(-1.36,91)(-1.1,31)(-.93,4.5)(-.6,2)(-.3,5)(0,3)(.3,7)(.5,10)(.65,16)(.9,21)(1.1,18)(1.29,52)(1.54,94)(1.7,100)(1.9,67)(2.1,25)(2.3,4)(2.6,8)(3,3)(3.4,7)(3.8,3)(4.2,6)(4.6,3)(5,9)(5.4,10)(5.8,6)(6.1,10)(6.4,7)(6.8,2)(7.2,5)(7.6,2)(8,8)(8.4,5)(8.7,2)(9.1,4)(9.5,1)(10,6)};
\addplot[cblu,line width=.9pt,smooth,tension=.4] coordinates {(-10,3)(-9.5,2)(-9,3)(-8.5,1)(-8,3)(-7.5,2)(-7,6)(-6.7,2)(-6.3,5)(-5.9,2)(-5.5,1)(-5,2)(-4.6,5)(-4.25,10)(-3.9,6)(-3.5,1)(-3,2)(-2.6,1)(-2.1,4.5)(-1.87,19)(-1.6,61)(-1.41,82)(-1.25,62)(-1.1,31)(-.9,4.5)(-.6,3)(-.35,17)(-.15,11)(0,9)(.15,11)(.35,15.5)(.55,4)(.65,3)(1,4.5)(1.16,46)(1.41,64)(1.66,37)(1.9,4.5)(2.2,1)(2.6,2)(3,1)(3.5,3)(4,2)(4.4,8)(4.7,2)(5.2,1)(5.6,4)(6,5)(6.5,2)(7,2)(7.3,5)(7.7,2)(8.2,3)(8.7,1)(9.2,3)(9.7,1)(10,3)};
\end{axis}
\T{106}{652}{\textit{W}=5 µm}\T{109}{678}{\textit{L}=0.4 µm}\T{263}{658}{\textit{n} (cm\textsuperscript{−2})}\T{99}{718}{\textbf{J}\textsubscript{s}/10}
\draw[-{Latex[length=6pt,width=5pt]},line width=.8pt] (162pt,-717pt)--(122pt,-717pt);
\Key{cblk}{236}{277}{683}{279}{3×10\textsuperscript{11}}
\Key{cred}{236}{277}{709}{279}{2×10\textsuperscript{10}}
\Key{cblu}{236}{277}{736}{279}{CNP}
% ============ f
\begin{axis}[base,at={(467pt,-777pt)},width=263pt,height=144pt,xmin=-10,xmax=10,ymin=0,ymax=488,axis on top=false,
 axis lines*=left,xtick={-10,-5,0,5,10},xticklabels={−10,−5,0,5,10},ytick={0,200,400},minor x tick num=1,minor y tick num=1,
 xlabel={\textit{x} (µm)},ylabel={\textbf{J}\textsubscript{s} (nA µm\textsuperscript{−1})},yl=53pt,xl=-40pt,
 after end axis/.code={\draw[gray!70,line width=1.2pt] (rel axis cs:0,1)--(rel axis cs:1,1)--(rel axis cs:1,0);}]
\addplot[cblk,line width=.9pt,smooth,tension=.4] coordinates {(-10,3)(-9,5)(-8.5,3)(-8,6)(-7.5,5)(-7,12)(-6.6,4)(-6,8)(-5.5,8)(-5,12)(-4.75,20)(-4.5,8)(-4.2,20)(-3.9,8)(-3.5,10)(-3,7)(-2.7,12)(-2.45,22)(-2.2,8)(-2,15)(-1.8,6)(-1.65,8)(-1.4,284)(-1.19,455)(-.94,428)(-.63,436)(-.33,391)(.05,376)(.38,408)(.68,404)(1.06,438)(1.27,340)(1.52,36)(1.65,6)(1.9,5)(2.2,20)(2.5,8)(2.8,14)(3.2,5)(3.6,6)(4,18)(4.25,8)(4.5,18)(4.9,8)(5.5,8)(6,12)(6.5,6)(7,10)(7.5,4)(8,5)(9,3)(10,3)};
\addplot[cblu,line width=1.1pt,smooth,tension=.4] coordinates {(-10,5)(-9.4,7)(-9,3)(-8,5)(-7,4)(-6.5,8)(-6,6)(-5.5,10)(-5,12)(-4.7,18)(-4.3,10)(-3.9,12)(-3.3,12)(-2.8,10)(-2.5,22)(-2.2,16)(-1.9,15)(-1.7,6)(-1.65,8)(-1.4,228)(-1.09,365)(-.76,331)(-.43,329)(.05,383)(.58,303)(.94,335)(1.27,261)(1.52,70)(1.7,6)(1.95,12)(2.3,22)(2.7,18)(3.1,6)(3.6,12)(4.1,10)(4.7,18)(5,10)(5.5,9)(6,6)(6.6,5)(7.5,4)(8.5,3)(9.2,6)(10,3)};
\end{axis}
\T{511}{659}{\textit{W}=3 µm}\T{518}{678}{\textit{L}=0.35 µm}\T{658}{698}{\textit{n} (cm\textsuperscript{−2})}\T{669}{667}{\textbf{J}\textsubscript{s}/10}
\draw[-{Latex[length=6pt,width=5pt]},line width=.8pt] (650pt,-665pt)--(618pt,-665pt);
\Key{cblk}{630}{671}{723}{676}{3×10\textsuperscript{12}}
\Key{cblu}{630}{671}{749}{676}{CNP}
% ============ panel letters
\node[font=\fontsize{18}{20}\selectfont\bfseries] at (8pt,-14pt){a};
\node[font=\fontsize{18}{20}\selectfont\bfseries] at (407pt,-14pt){b};
\node[font=\fontsize{18}{20}\selectfont\bfseries] at (10pt,-250pt){c};
\node[font=\fontsize{18}{20}\selectfont\bfseries] at (407pt,-250pt){d};
\node[font=\fontsize{18}{20}\selectfont\bfseries] at (9pt,-625pt){e};
\node[font=\fontsize{18}{20}\selectfont\bfseries] at (404pt,-625pt){f};
\end{tikzpicture}
\end{document}
